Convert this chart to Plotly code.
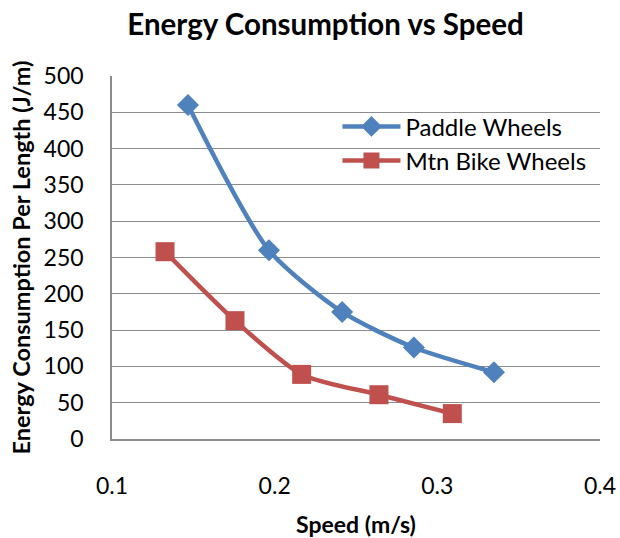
import plotly.graph_objects as go

paddle_speed = [0.1467, 0.1965, 0.2415, 0.2856, 0.3348]
paddle_energy = [460, 260, 175, 126, 92]
mtn_speed = [0.1326, 0.1756, 0.2166, 0.2641, 0.3092]
mtn_energy = [258, 163, 89, 61, 35]

FONT = "Lato"
fig = go.Figure()
fig.add_trace(go.Scatter(x=paddle_speed, y=paddle_energy, name="Paddle Wheels",
                         mode="lines+markers", line=dict(color="#4F81BD", width=4.5, shape="spline", smoothing=0.7),
                         marker=dict(symbol="diamond", size=17, color="#4F81BD")))
fig.add_trace(go.Scatter(x=mtn_speed, y=mtn_energy, name="Mtn Bike Wheels",
                         mode="lines+markers", line=dict(color="#C0504D", width=4.5, shape="spline", smoothing=0.7),
                         marker=dict(symbol="square", size=19, color="#C0504D")))

fig.update_layout(
    width=620, height=538,
    margin=dict(l=112, r=20, t=76, b=99, autoexpand=False),
    paper_bgcolor="white", plot_bgcolor="white",
    font=dict(family=FONT, size=23, color="black"),
    title=dict(text="<b>Energy Consumption vs Speed</b>", x=0.525, xanchor="center", y=0.954, yanchor="middle",
               font=dict(size=29.5, family=FONT)),
    showlegend=True,
    legend=dict(x=0.462, y=0.922, xanchor="left", yanchor="top", bgcolor="rgba(0,0,0,0)",
                font=dict(size=24, family=FONT), tracegroupgap=0, itemwidth=58),
    xaxis=dict(range=[0.1, 0.4], dtick=0.1, tickformat=".1f", showgrid=False, zeroline=False, automargin=False,
               showline=True, linecolor="#8C8C8C", linewidth=1.5, ticks="", ticklabelstandoff=26,
               title=dict(text="<b>Speed (m/s)</b>", font=dict(size=23, family=FONT), standoff=24),
               tickfont=dict(size=23)),
    yaxis=dict(range=[0, 500], dtick=50, showgrid=True, gridcolor="#8C8C8C", gridwidth=1.3, zeroline=False, automargin=False,
               showline=True, linecolor="#8C8C8C", linewidth=1.5, ticks="", ticklabelstandoff=22,
               title=dict(text="<b>Energy Consumption Per Length (J/m)</b>", font=dict(size=23.5, family=FONT), standoff=6),
               tickfont=dict(size=23)),
)
fig.write_html("out.html", post_script="document.body.style.margin='0';", config={"displayModeBar": False})
